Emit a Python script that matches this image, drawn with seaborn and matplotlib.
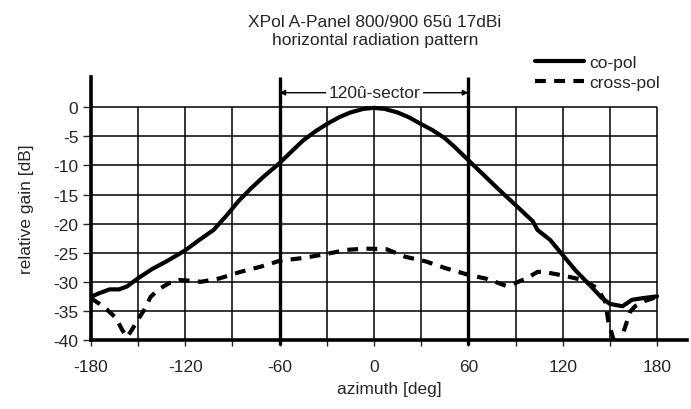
import matplotlib
matplotlib.use("Agg")
import matplotlib.pyplot as plt
import seaborn as sns
import pandas as pd
import numpy as np

# co-polar pattern
co_az = [-180, -175, -168, -162, -157, -150, -141, -132, -120, -111, -102, -94, -86,
         -78, -70, -60, -52, -45, -37, -30, -22, -15, -7, 0, 7, 15, 22, 30, 37, 45,
         52, 60, 70, 80, 90, 101, 104, 112, 120, 128, 137, 145, 150, 158, 164, 171, 180]
co_db = [-32.6, -32.0, -31.3, -31.3, -30.8, -29.4, -27.8, -26.5, -24.6, -22.8, -21.1,
         -18.7, -16.1, -13.9, -11.9, -9.6, -7.5, -5.7, -4.1, -2.9, -1.7, -0.9, -0.3,
         -0.1, -0.3, -0.9, -1.7, -2.9, -3.9, -5.3, -7.0, -9.1, -11.7, -14.3, -16.8,
         -19.6, -21.1, -22.8, -25.4, -28.0, -30.5, -32.8, -33.8, -34.2, -33.1, -32.8,
         -32.5]

# cross-polar pattern
cross_az = [-180, -175, -170, -164, -160, -157, -154, -150, -146, -142, -137, -130,
            -124, -117, -110, -98, -85, -72, -60, -45, -32, -17, -5, 8, 20, 33, 46,
            60, 72, 84, 90, 97, 104, 108, 120, 133, 142, 147, 149, 152, 155.5, 158,
            163, 166, 172, 180]
cross_db = [-32.8, -33.7, -34.7, -36.2, -38.3, -39.5, -38.3, -36.5, -34.8, -32.6,
            -31.3, -30.2, -29.7, -29.8, -30.0, -29.4, -28.3, -27.4, -26.4, -25.9,
            -25.3, -24.5, -24.3, -24.4, -25.7, -26.5, -27.7, -28.8, -29.5, -30.7,
            -30.2, -29.4, -28.3, -28.3, -28.9, -29.7, -31.1, -33.4, -36.8, -39.7,
            -41.5, -39.1, -35.1, -34.2, -33.3, -32.6]

series_names = ["co-pol", "cross-pol"]
x_ticks = [-180, -120, -60, 0, 60, 120, 180]
y_ticks = [-40, -35, -30, -25, -20, -15, -10, -5, 0]
sector = [-60, 60]

df = pd.concat([
    pd.DataFrame({"azimuth": co_az, "gain": co_db, "pattern": series_names[0]}),
    pd.DataFrame({"azimuth": cross_az, "gain": cross_db, "pattern": series_names[1]}),
])

sns.set_style("ticks")
plt.rcParams["font.family"] = ["Liberation Sans", "DejaVu Sans"]
plt.rcParams["font.size"] = 12.5
plt.rcParams["axes.unicode_minus"] = False
FS = 12.5

fig = plt.figure(figsize=(6.91, 4.10), dpi=100)
ax = fig.add_axes([0.1314, 0.1683, 0.8628, 0.6415])

# grid limited to the data range
ax.vlines(np.arange(-180, 181, 30), -40, 0, color="black", lw=1.1, zorder=1)
ax.hlines(np.arange(-40, 1, 5), -180, 180, color="black", lw=1.1, zorder=1)

# sector boundaries
ax.vlines(sector, -40.9, 5.2, color="black", lw=2.4, zorder=2, clip_on=False)
ax.annotate("", xy=(sector[0], 2.5), xytext=(sector[1], 2.5),
            arrowprops=dict(arrowstyle="<|-|>", lw=1.0, color="black",
                            mutation_scale=8, shrinkA=0, shrinkB=0))
ax.text(0.5, 2.5, "120û-sector", ha="center", va="center", fontsize=FS,
        bbox=dict(facecolor="white", edgecolor="none", pad=2.0), zorder=3)

sns.lineplot(data=df, x="azimuth", y="gain", hue="pattern", style="pattern",
             palette={"co-pol": "black", "cross-pol": "black"},
             dashes={"co-pol": "", "cross-pol": (2.6, 2.0)},
             linewidth=3, errorbar=None, ax=ax, zorder=4)

ax.set_xlim(-180, 199)
ax.set_ylim(-40, 5.2)
ax.set_xticks(x_ticks)
ax.set_xticks(np.arange(-180, 181, 30), minor=True)
ax.set_yticks(y_ticks)
ax.tick_params(axis="x", which="both", length=4, width=1, pad=10, labelsize=FS)
ax.tick_params(axis="y", length=6, width=1, pad=3, labelsize=FS)
for s in ["top", "right"]:
    ax.spines[s].set_visible(False)
for s in ["left", "bottom"]:
    ax.spines[s].set_linewidth(2.6)
    ax.spines[s].set_color("black")

ax.set_xlabel("azimuth [deg]", fontsize=FS, labelpad=5)
ax.set_ylabel("relative gain [dB]", fontsize=FS, labelpad=14)

handles, labels = ax.get_legend_handles_labels()
leg = ax.legend(handles, labels, loc="center left",
                bbox_to_anchor=(535 / 691, 1 - 73.5 / 410),
                bbox_transform=fig.transFigure, frameon=False, fontsize=FS,
                handlelength=2.8, handletextpad=0.35, labelspacing=0.25,
                borderpad=0, borderaxespad=0)
for ln in leg.get_lines():
    ln.set_linewidth(3)

fig.text(375 / 691, 1 - 31.5 / 410,
         "XPol A-Panel 800/900 65û 17dBi\nhorizontal radiation pattern",
         ha="center", va="center", fontsize=FS, linespacing=1.3)

fig.savefig("out.png", dpi=100)
